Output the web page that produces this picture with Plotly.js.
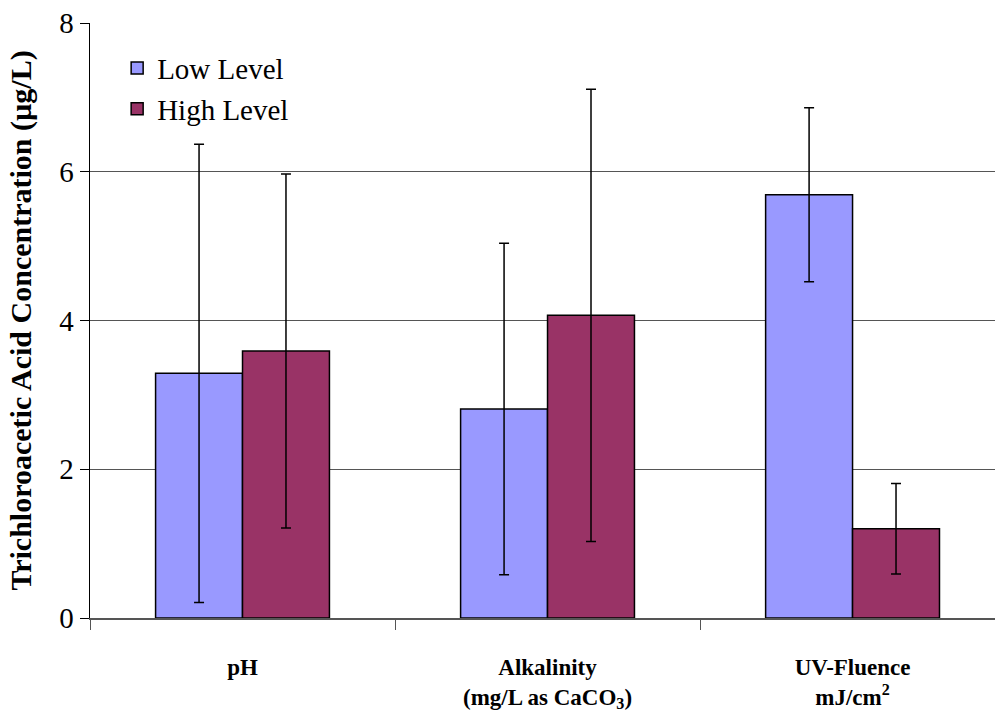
<!DOCTYPE html>
<html>
<head>
<meta charset="utf-8">
<script src="https://cdn.plot.ly/plotly-3.0.1.min.js"></script>
<style>html,body{margin:0;padding:0;background:#fff;}</style>
</head>
<body>
<div id="chart" style="width:995px;height:715px;"></div>
<script>
var categories = ["pH", "Alkalinity<br>(mg/L as CaCO<sub>3</sub>)", "UV-Fluence<br>mJ/cm<sup>2</sup>"];
var lowValues = [3.29, 2.81, 5.69];
var lowErrors = [3.08, 2.23, 1.17];
var highValues = [3.59, 4.07, 1.2];
var highErrors = [2.38, 3.04, 0.61];
var yTicks = [0, 2, 4, 6, 8];

var serif = "'Liberation Serif', 'Times New Roman', serif";

var traces = [
  {
    type: "bar", name: "Low Level", x: categories, y: lowValues,
    marker: {color: "#9999FF", line: {color: "#000000", width: 1.5}},
    error_y: {type: "data", array: lowErrors, visible: true, color: "#000000", thickness: 1.5, width: 5}
  },
  {
    type: "bar", name: "High Level", x: categories, y: highValues,
    marker: {color: "#993366", line: {color: "#000000", width: 1.5}},
    error_y: {type: "data", array: highErrors, visible: true, color: "#000000", thickness: 1.5, width: 5}
  }
];

var layout = {
  width: 995, height: 715,
  margin: {l: 90, r: 0, t: 23, b: 97},
  paper_bgcolor: "#ffffff", plot_bgcolor: "#ffffff",
  barmode: "group", bargap: 0.43, bargroupgap: 0,
  font: {family: serif, color: "#000000"},
  showlegend: true,
  legend: {
    x: 0.03, y: 0.967, xanchor: "left", yanchor: "top",
    bgcolor: "rgba(0,0,0,0)", borderwidth: 0,
    font: {family: serif, size: 29, color: "#000000"},
    tracegroupgap: 0, itemwidth: 30
  },
  xaxis: {
    type: "category",
    range: [-0.5, 2.467],
    tickson: "boundaries",
    ticks: "outside", ticklen: 10, tickcolor: "#555555", tickwidth: 1,
    showline: true, linecolor: "#555555", linewidth: 2,
    showgrid: false, zeroline: false,
    ticklabelstandoff: 27,
    tickfont: {family: serif, size: 23, color: "#000000", weight: "bold"}
  },
  yaxis: {
    range: [0, 8], tickvals: yTicks, ticktext: yTicks.map(String),
    ticks: "outside", ticklen: 9, tickcolor: "#000000", tickwidth: 1,
    showline: true, linecolor: "#000000", linewidth: 1.5,
    showgrid: true, gridcolor: "#555555", gridwidth: 1,
    zeroline: false,
    tickfont: {family: serif, size: 29, color: "#000000"},
    title: {text: "Trichloroacetic Acid Concentration (µg/L)", standoff: 18,
            font: {family: serif, size: 30, color: "#000000", weight: "bold"}}
  }
};

Plotly.newPlot("chart", traces, layout, {displayModeBar: false, staticPlot: true});
</script>
</body>
</html>
